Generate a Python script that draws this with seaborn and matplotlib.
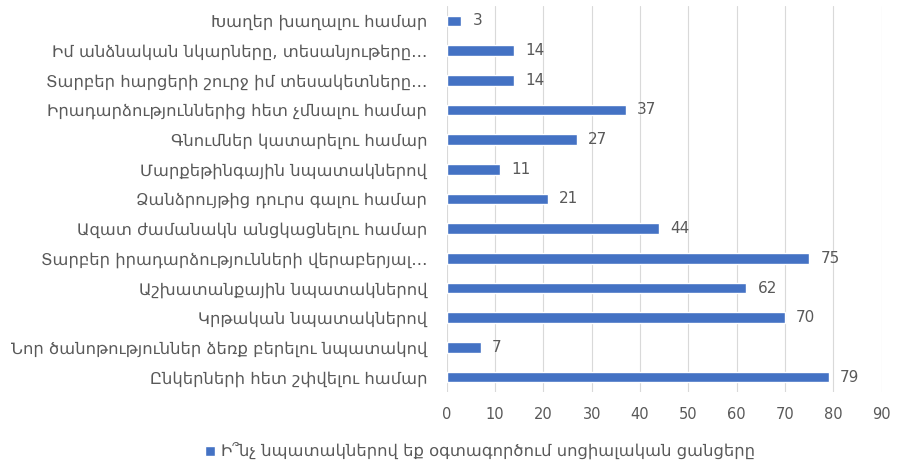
import matplotlib
matplotlib.use("Agg")
import matplotlib.pyplot as plt
import seaborn as sns
import pandas as pd

categories = [
    "Խաղեր խաղալու համար",
    "Իմ անձնական նկարները, տեսանյութերը…",
    "Տարբեր հարցերի շուրջ իմ տեսակետները…",
    "Իրադարձություններից հետ չմնալու համար",
    "Գնումներ կատարելու համար",
    "Մարքեթինգային նպատակներով",
    "Ձանձրույթից դուրս գալու համար",
    "Ազատ ժամանակն անցկացնելու համար",
    "Տարբեր իրադարձությունների վերաբերյալ…",
    "Աշխատանքային նպատակներով",
    "Կրթական նպատակներով",
    "Նոր ծանոթություններ ձեռք բերելու նպատակով",
    "Ընկերների հետ շփվելու համար",
]
values = [3, 14, 14, 37, 27, 11, 21, 44, 75, 62, 70, 7, 79]
series_name = "Ի՞նչ նպատակներով եք օգտագործում սոցիալական ցանցերը"
x_ticks = [0, 10, 20, 30, 40, 50, 60, 70, 80, 90]

df = pd.DataFrame({"category": categories, "value": values, "series": series_name})

sns.set_theme(style="white")
plt.rcParams["font.family"] = ["DejaVu Sans"]

bar_color = "#4472C4"
text_color = "#595959"

fig = plt.figure(figsize=(8.97, 4.66), dpi=100)
ax = fig.add_axes([0.498, 0.159, 0.485, 0.828])

sns.barplot(data=df, y="category", x="value", hue="series", palette=[bar_color],
            saturation=1, orient="h", width=0.36, ax=ax, legend=True)

ax.set_xlim(0, 90)
ax.set_xticks(x_ticks)
ax.set_xlabel("")
ax.set_ylabel("")
ax.grid(axis="x", color="#d9d9d9", linewidth=0.8)
ax.set_axisbelow(True)
for s in ax.spines.values():
    s.set_visible(False)
ax.tick_params(axis="both", length=0, colors=text_color)
ax.tick_params(axis="y", pad=14, labelsize=11.8)
ax.tick_params(axis="x", pad=11, labelsize=10.5)

for container in ax.containers:
    ax.bar_label(container, labels=[str(v) for v in values], padding=8,
                 color=text_color, fontsize=11)

# legend sits below the axes, centred slightly right of the figure middle
legend_x = (0.535 - 0.498) / 0.485
leg = ax.legend(loc="center", bbox_to_anchor=(legend_x, -0.155),
                frameon=False, fontsize=11.8, handlelength=0.6, handleheight=0.6,
                handletextpad=0.4)
for t in leg.get_texts():
    t.set_color(text_color)

fig.savefig("out.png", dpi=100)
